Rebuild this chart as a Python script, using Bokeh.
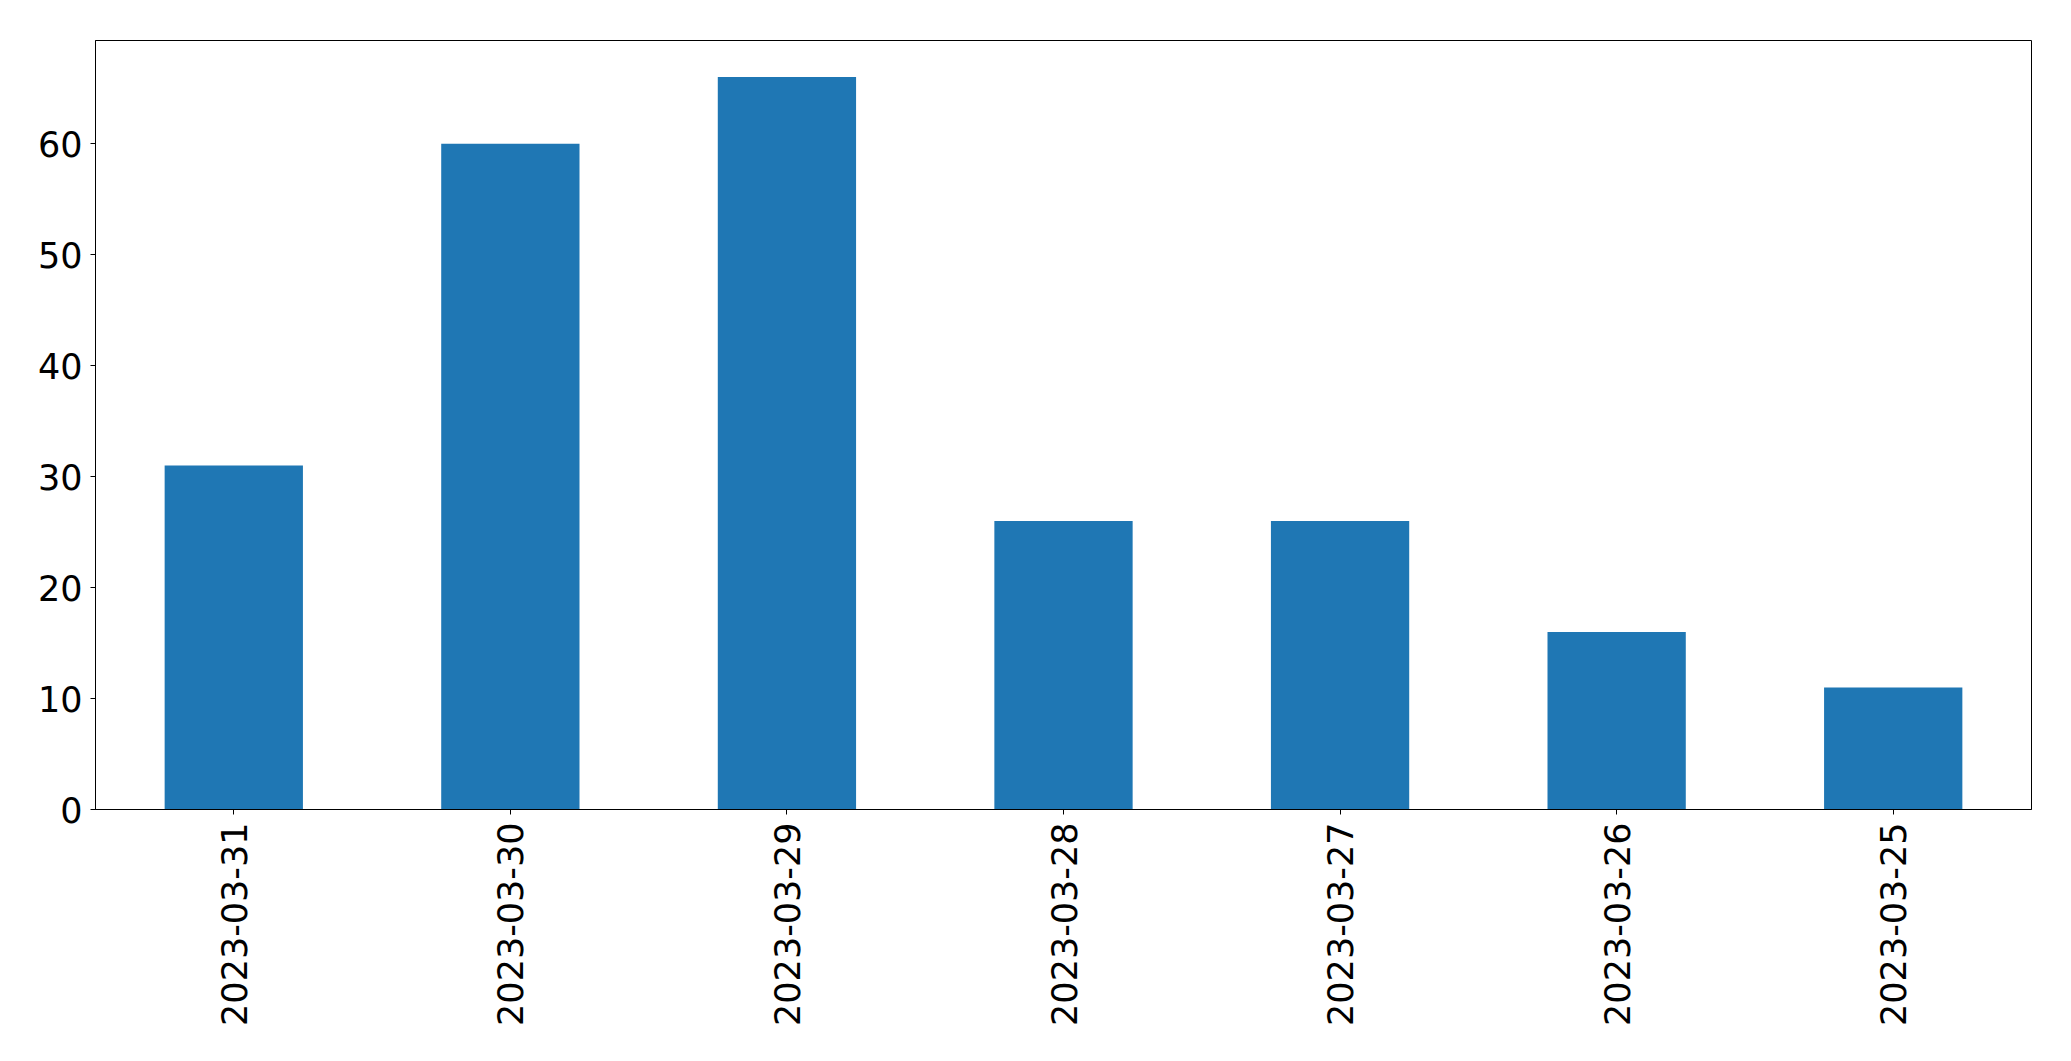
import math
from bokeh.plotting import figure
from bokeh.models import FactorRange, Range1d, FixedTicker, ColumnDataSource
from bokeh.embed import file_html
from bokeh.resources import INLINE

dates = ["2023-03-31", "2023-03-30", "2023-03-29", "2023-03-28",
         "2023-03-27", "2023-03-26", "2023-03-25"]
counts = [31, 60, 66, 26, 26, 16, 11]
y_ticks = [0, 10, 20, 30, 40, 50, 60]

src = ColumnDataSource(data=dict(dates=dates, counts=counts))

p = figure(
    x_range=FactorRange(*dates),
    y_range=Range1d(0, max(counts) * 1.05),
    width=2055, height=1045,
    output_backend="svg", toolbar_location=None,
    min_border_left=95, min_border_top=40,
    min_border_right=24, min_border_bottom=236,
)
p.vbar(x="dates", top="counts", width=0.5, source=src,
       fill_color="#1f77b4", line_color=None)

p.xgrid.visible = False
p.ygrid.visible = False
p.outline_line_color = "black"
p.outline_line_width = 1
p.background_fill_color = "white"
p.border_fill_color = "white"

for ax in (p.xaxis, p.yaxis):
    ax.axis_line_color = "black"
    ax.major_tick_line_color = "black"
    ax.major_tick_out = 5
    ax.major_tick_in = 0
    ax.minor_tick_line_color = None
    ax.major_label_text_font = "DejaVu Sans"
    ax.major_label_text_font_size = "35px"
    ax.major_label_text_color = "black"

p.yaxis.ticker = FixedTicker(ticks=y_ticks)
p.yaxis.major_label_standoff = 8
p.xaxis.major_label_orientation = math.pi / 2
p.xaxis.major_label_standoff = 8

open("out.html", "w").write(file_html(p, INLINE))
